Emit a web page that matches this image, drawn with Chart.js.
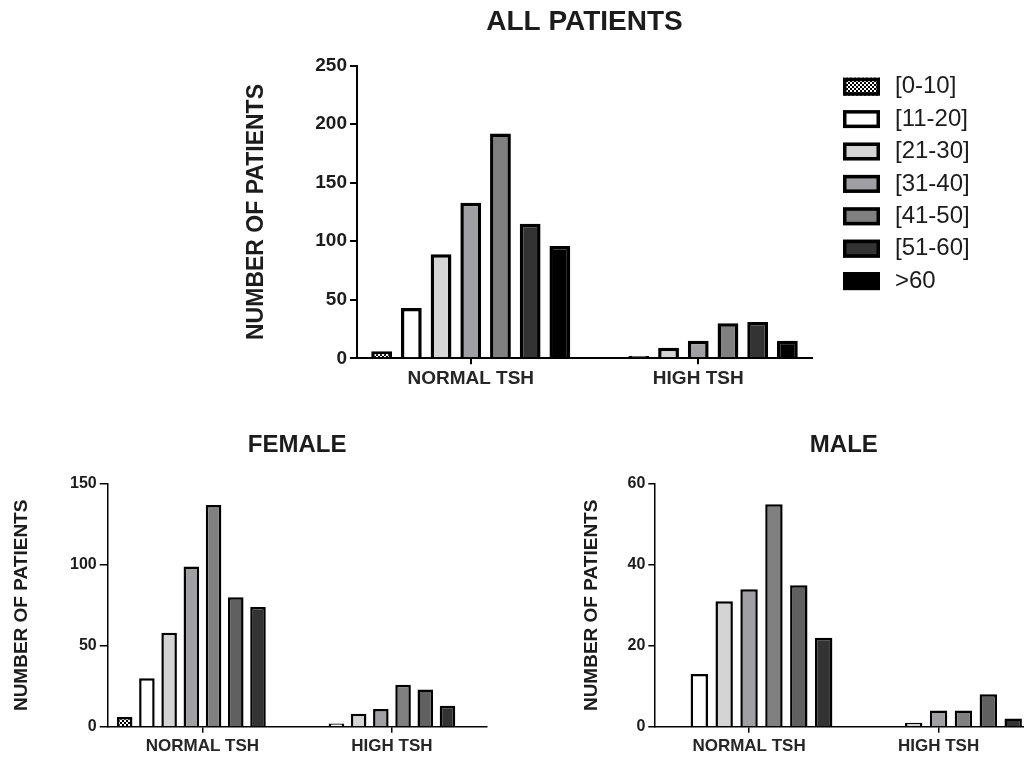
<!DOCTYPE html>
<html>
<head>
<meta charset="utf-8">
<title>TSH by age group</title>
<script src="https://cdn.jsdelivr.net/npm/chart.js@4.4.1/dist/chart.umd.min.js"></script>
<style>
  html, body { margin: 0; padding: 0; background: #ffffff; overflow: hidden; width: 1024px; height: 757px; }
  canvas { position: absolute; }
  #all { left: 0; top: 0; }
  #female { left: 0; top: 400px; }
  #male { left: 540px; top: 400px; }
</style>
</head>
<body>
<canvas id="all" width="1024" height="400"></canvas>
<canvas id="female" width="540" height="357"></canvas>
<canvas id="male" width="500" height="357"></canvas>
<script>
// Groups on the x axis and the age bands (one series per band)
const groups = ['NORMAL TSH', 'HIGH TSH'];
const ageBands = ['[0-10]', '[11-20]', '[21-30]', '[31-40]', '[41-50]', '[51-60]', '>60'];

// Number of patients per age band
const allNormal    = [6, 43, 89, 133, 192, 115, 96];
const allHigh      = [0, 2, 9, 15, 30, 31, 15];
const femaleNormal = [6, 30, 58, 99, 137, 80, 74];
const femaleHigh   = [0, 2, 8, 11, 26, 23, 13];
const maleNormal   = [0, 13, 31, 34, 55, 35, 22];
const maleHigh     = [0, 0, 1, 4, 4, 8, 2];

// Y axis tick values
const allTicks    = [0, 50, 100, 150, 200, 250];
const femaleTicks = [0, 50, 100, 150];
const maleTicks   = [0, 20, 40, 60];

const FONT = "'Liberation Sans', Arial, Helvetica, sans-serif";
const INK = '#1c1c1c';

// Black/white checker used for the youngest band
function checker(canvasId) {
  const tile = document.createElement('canvas');
  tile.width = 4; tile.height = 4;
  const g = tile.getContext('2d');
  g.fillStyle = '#000'; g.fillRect(0, 0, 4, 4);
  g.fillStyle = '#fff'; g.fillRect(0, 0, 2, 2); g.fillRect(2, 2, 2, 2);
  return document.getElementById(canvasId).getContext('2d').createPattern(tile, 'repeat');
}

function buildDatasets(normal, high, fills, borderWidth) {
  return ageBands.map((band, i) => ({
    label: band,
    data: [normal[i], high[i]],
    backgroundColor: fills[i],
    borderColor: '#000000',
    borderWidth: borderWidth
  }));
}

// Legend drawn to the right of the plot area
const sideLegend = {
  id: 'sideLegend',
  afterDraw(chart, args, o) {
    const { ctx, chartArea } = chart;
    const x0 = chartArea.right + o.gap;
    chart.data.datasets.forEach((ds, i) => {
      const cy = chartArea.top + o.firstRow + i * o.rowStep;
      const top = cy - o.boxH / 2;
      ctx.save();
      ctx.fillStyle = ds.backgroundColor;
      ctx.fillRect(x0, top, o.boxW, o.boxH);
      ctx.lineWidth = o.boxBorder;
      ctx.strokeStyle = '#000';
      ctx.strokeRect(x0 + o.boxBorder / 2, top + o.boxBorder / 2, o.boxW - o.boxBorder, o.boxH - o.boxBorder);
      ctx.font = o.fontSize + 'px ' + FONT;
      ctx.fillStyle = INK;
      ctx.textBaseline = 'middle';
      ctx.textAlign = 'left';
      ctx.fillText(ds.label, x0 + o.boxW + o.textGap, cy);
      ctx.restore();
    });
  }
};

function chartOptions(c) {
  return {
    responsive: false,
    animation: false,
    devicePixelRatio: 1,
    layout: { padding: c.padding },
    datasets: { bar: { categoryPercentage: c.catPct, barPercentage: 0.7 } },
    plugins: {
      legend: { display: false },
      tooltip: { enabled: false },
      title: {
        display: true,
        text: c.title,
        fullSize: false,
        color: INK,
        font: { family: FONT, size: c.titleSize, weight: 'bold' },
        padding: { top: c.titlePadTop, bottom: c.titlePadBottom }
      },
      sideLegend: c.legend || {}
    },
    scales: {
      x: {
        grid: { offset: false, drawOnChartArea: false, drawTicks: true, tickLength: c.xTick, color: '#000', lineWidth: c.axisWidth },
        border: { display: true, color: '#000', width: c.axisWidth },
        ticks: { color: '#262626', padding: c.xPad, maxRotation: 0, autoSkip: false,
                 font: { family: FONT, size: c.xFont, weight: 'bold' } },
        afterFit: s => { s.height = c.xHeight; }
      },
      y: {
        min: c.ticks[0],
        max: c.ticks[c.ticks.length - 1],
        afterBuildTicks: s => { s.ticks = c.ticks.map(v => ({ value: v })); },
        grid: { drawOnChartArea: false, drawTicks: true, tickLength: c.yTick, color: '#000', lineWidth: c.axisWidth },
        border: { display: true, color: '#000', width: c.axisWidth },
        ticks: { color: INK, padding: c.yPad, font: { family: FONT, size: c.yFont, weight: 'bold' } },
        title: { display: true, text: 'NUMBER OF PATIENTS', color: INK, padding: 0,
                 font: { family: FONT, size: c.yTitleSize, weight: 'bold' } },
        afterFit: s => { s.width = c.yWidth; }
      }
    }
  };
}

// ALL PATIENTS
const allFills = [checker('all'), '#ffffff', '#d4d4d4', '#a0a0a4', '#808080', '#333333', '#000000'];
new Chart(document.getElementById('all'), {
  type: 'bar',
  data: { labels: groups, datasets: buildDatasets(allNormal, allHigh, allFills, 3.5) },
  options: chartOptions({
    title: 'ALL PATIENTS', titleSize: 28, titlePadTop: 5.7, titlePadBottom: 26.4,
    padding: { left: 243, right: 212, top: 0, bottom: 0 },
    catPct: 0.914, axisWidth: 2,
    ticks: allTicks, yWidth: 114, yTick: 7, yPad: 3, yFont: 19, yTitleSize: 23,
    xHeight: 41.7, xTick: 6, xPad: 3.5, xFont: 19,
    legend: { gap: 31, firstRow: 21, rowStep: 32.4, boxW: 37, boxH: 18, boxBorder: 3.5, textGap: 15, fontSize: 24 }
  }),
  plugins: [sideLegend]
});

// FEMALE: the table carries one extra, empty column after the last band
const femaleFills = [checker('female'), '#ffffff', '#d4d4d4', '#a0a0a4', '#808080', '#606060', '#333333'];
const femaleSets = buildDatasets(femaleNormal, femaleHigh, femaleFills, 2.5);
femaleSets.push({ label: '', data: [null, null] });
new Chart(document.getElementById('female'), {
  type: 'bar',
  data: { labels: groups, datasets: femaleSets },
  options: chartOptions({
    title: 'FEMALE', titleSize: 24, titlePadTop: 31.1, titlePadBottom: 24.1,
    padding: { left: 10.3, right: 53.3, top: 0, bottom: 0 },
    catPct: 0.938, axisWidth: 1.5,
    ticks: femaleTicks, yWidth: 97.4, yTick: 8, yPad: 3, yFont: 16, yTitleSize: 19,
    xHeight: 30.3, xTick: 6, xPad: 3, xFont: 17
  })
});

// MALE
const maleFills = [checker('male'), '#ffffff', '#d4d4d4', '#a0a0a4', '#808080', '#606060', '#333333'];
new Chart(document.getElementById('male'), {
  type: 'bar',
  data: { labels: groups, datasets: buildDatasets(maleNormal, maleHigh, maleFills, 2.5) },
  options: chartOptions({
    title: 'MALE', titleSize: 24, titlePadTop: 31.1, titlePadBottom: 24.1,
    padding: { left: 40.3, right: 6.7, top: 0, bottom: 0 },
    catPct: 0.919, axisWidth: 1.5,
    ticks: maleTicks, yWidth: 74, yTick: 6, yPad: 3, yFont: 16, yTitleSize: 19,
    xHeight: 30.3, xTick: 6, xPad: 3, xFont: 17
  })
});
</script>
</body>
</html>
